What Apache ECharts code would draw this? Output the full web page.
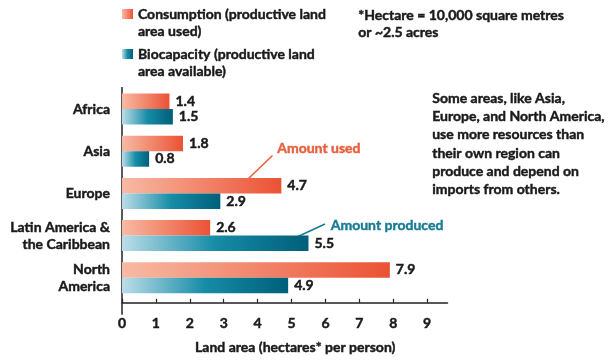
<!DOCTYPE html>
<html>
<head>
<meta charset="utf-8">
<script src="https://cdn.jsdelivr.net/npm/echarts@6/dist/echarts.min.js"></script>
<style>
html,body{margin:0;padding:0;background:#fff;}
#c{width:611px;height:360px;}
</style>
</head>
<body>
<div id="c"></div>
<script>
const categories = ['Africa', 'Asia', 'Europe', 'Latin America &\nthe Caribbean', 'North\nAmerica'];
const consumption = [1.4, 1.8, 4.7, 2.6, 7.9];
const biocapacity = [1.5, 0.8, 2.9, 5.5, 4.9];
const xTicks = [0, 1, 2, 3, 4, 5, 6, 7, 8, 9];
const seriesNames = ['Consumption (productive land\narea used)', 'Biocapacity (productive land\narea available)'];
const axisTitle = 'Land area (hectares* per person)';
const footnote = '*Hectare = 10,000 square metres\nor ~2.5 acres';
const sideNote = 'Some areas, like Asia,\nEurope, and North America,\nuse more resources than\ntheir own region can\nproduce and depend on\nimports from others.';
const noteUsed = 'Amount used';
const noteProduced = 'Amount produced';

const FONT = 'Lato';
const W = 'bold';
const SW = 0.45;
const ORANGE = '#e8603f';
const TEAL = '#1a7c94';
const INK = '#1a1a1a';
const G = { left: 122, top: 88, width: 325.5, height: 222 };

const orangeGrad = new echarts.graphic.LinearGradient(0, 0, 1, 0, [
  { offset: 0, color: '#f8baa4' },
  { offset: 1, color: '#eb5234' }
]);
const tealGrad = new echarts.graphic.LinearGradient(0, 0, 1, 0, [
  { offset: 0, color: '#bcdde8' },
  { offset: 0.5, color: '#168ca7' },
  { offset: 1, color: '#005f7a' }
]);

const txt = (color) => ({ fontFamily: FONT, fontWeight: W, fontSize: 14, color: color, textBorderColor: color, textBorderWidth: SW });

const labelStyle = Object.assign({ show: true, position: 'right', distance: 6 }, txt(INK));

const chart = echarts.init(document.getElementById('c'), null, { renderer: 'canvas' });
chart.setOption({
  animation: false,
  backgroundColor: '#fff',
  textStyle: { fontFamily: FONT },
  legend: {
    orient: 'vertical', left: 122, top: -11.5, padding: 0,
    itemWidth: 11, itemHeight: 10, itemGap: -11,
    selectedMode: false,
    icon: 'rect',
    formatter: function (n) { return '\n' + n; },
    textStyle: Object.assign({ lineHeight: 17 }, txt(INK)),
    data: seriesNames
  },
  grid: { left: G.left, top: G.top, width: G.width, height: G.height, containLabel: false },
  xAxis: {
    type: 'value', min: 0, max: 9.6, offset: 4,
    name: axisTitle, nameLocation: 'middle', nameGap: 38,
    nameTextStyle: Object.assign({ padding: [0, 0, 0, 21] }, txt(INK)),
    axisLine: { show: true, lineStyle: { color: '#222', width: 1.5 } },
    axisTick: { show: true, inside: true, length: 4, customValues: xTicks, lineStyle: { color: '#222', width: 1.2 } },
    axisLabel: Object.assign({ customValues: xTicks, margin: 14 }, txt(INK)),
    splitLine: { show: false }
  },
  yAxis: {
    type: 'category', inverse: true, data: categories,
    axisLine: { show: false },
    axisTick: { show: false },
    axisLabel: Object.assign({ margin: 12, lineHeight: 17, align: 'right' }, txt(INK))
  },
  series: [
    {
      name: seriesNames[0], type: 'bar', data: consumption,
      barWidth: 15.5, barGap: '0%',
      itemStyle: { color: orangeGrad },
      label: labelStyle
    },
    {
      name: seriesNames[1], type: 'bar', data: biocapacity,
      barWidth: 15.5, barGap: '0%',
      itemStyle: { color: tealGrad },
      label: labelStyle
    }
  ],
  graphic: [
    { type: 'line', silent: true, shape: { x1: G.left, y1: G.top - 1, x2: G.left, y2: G.top + G.height + 4.7 },
      style: { stroke: '#222', lineWidth: 1.5 } },
    { type: 'text', left: 358, top: 6.5, silent: true,
      style: { text: footnote, font: 'bold 14px Lato', lineHeight: 17, fill: INK, stroke: INK, lineWidth: SW } },
    { type: 'text', left: 432, top: 89, silent: true,
      style: { text: sideNote, font: 'bold 14px Lato', lineHeight: 18.3, fill: INK, stroke: INK, lineWidth: SW } },
    { type: 'text', left: 277, top: 140, silent: true,
      style: { text: noteUsed, font: 'bold 14px Lato', lineHeight: 17, fill: ORANGE, stroke: ORANGE, lineWidth: SW } },
    { type: 'line', silent: true, shape: { x1: 272.5, y1: 155.5, x2: 247.5, y2: 179.5 },
      style: { stroke: ORANGE, lineWidth: 1.6 } },
    { type: 'text', left: 330.5, top: 216.5, silent: true,
      style: { text: noteProduced, font: 'bold 14px Lato', lineHeight: 17, fill: TEAL, stroke: TEAL, lineWidth: SW } },
    { type: 'line', silent: true, shape: { x1: 325, y1: 224, x2: 290.5, y2: 240 },
      style: { stroke: TEAL, lineWidth: 1.6 } }
  ]
});
</script>
</body>
</html>
